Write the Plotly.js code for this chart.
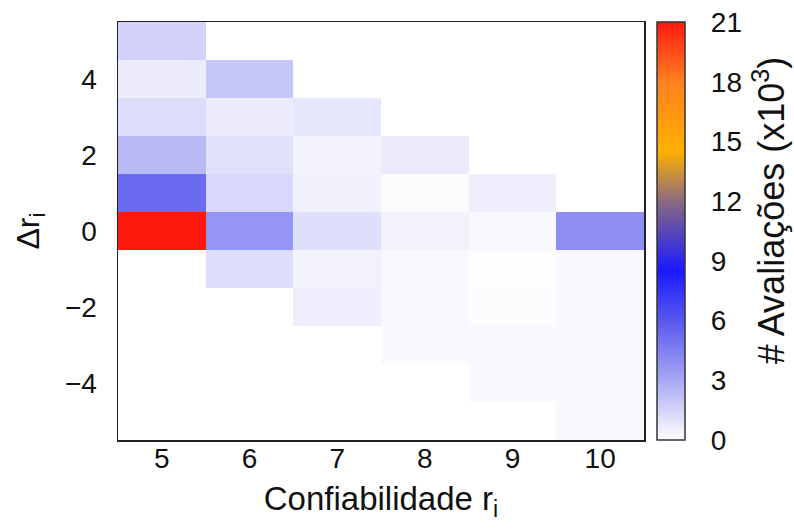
<!DOCTYPE html>
<html>
<head>
<meta charset="utf-8">
<script src="https://cdn.plot.ly/plotly-3.0.1.min.js"></script>
<style>html,body{margin:0;padding:0;background:#fff;}#chart{width:794px;height:529px;}</style>
</head>
<body>
<div id="chart"></div>
<script>
// Confiabilidade r_i (x categories)
const confiabilidade = [5, 6, 7, 8, 9, 10];
// Delta r_i (y rows)
const deltaR = [-5, -4, -3, -2, -1, 0, 1, 2, 3, 4, 5];
// Avaliacoes (x10^3) per column, ordered by deltaR
const col5  = [0, 0, 0, 0, 0, 21.0, 5.3, 2.4, 1.2, 0.65, 1.6];
const col6  = [0, 0, 0, 0, 1.2, 3.7, 1.35, 1.05, 0.65, 2.0, 0];
const col7  = [0, 0, 0, 0.6, 0.45, 1.1, 0.5, 0.4, 0.85, 0, 0];
const col8  = [0, 0, 0.2, 0.25, 0.25, 0.45, 0.15, 0.7, 0, 0, 0];
const col9  = [0, 0.2, 0.25, 0.1, 0.07, 0.25, 0.6, 0, 0, 0, 0];
const col10 = [0.25, 0.25, 0.25, 0.25, 0.25, 4.0, 0, 0, 0, 0, 0];
const columns = [col5, col6, col7, col8, col9, col10];
const cbTicks = [0, 3, 6, 9, 12, 15, 18, 21];
const yTicks = [-4, -2, 0, 2, 4];
const cbTitle = '# Avaliações (x10<sup>3</sup>)';

// z[row][col]
const z = deltaR.map((d, i) => columns.map(c => c[i]));

const font = 'Liberation Sans, Arial, sans-serif';
const zmax = 21;
const plotW = 526;
const cbX0 = 1.025, cbThick = 28;
const cbX1 = cbX0 + cbThick / plotW;
const dash = 6 / plotW;

// inside tick dashes of the colour bar, on both edges
const shapes = [];
cbTicks.filter(v => v > 0 && v < zmax).forEach(v => {
  const yy = v / zmax;
  shapes.push({type: 'line', xref: 'paper', yref: 'paper', x0: cbX0, x1: cbX0 + dash, y0: yy, y1: yy, line: {color: '#4a2020', width: 1.5}});
  shapes.push({type: 'line', xref: 'paper', yref: 'paper', x0: cbX1 - dash, x1: cbX1, y0: yy, y1: yy, line: {color: '#4a2020', width: 1.5}});
});

const trace = {
  type: 'heatmap',
  x: confiabilidade,
  y: deltaR,
  z: z,
  zmin: 0,
  zmax: zmax,
  colorscale: [
    [0.0, '#ffffff'],
    [3/21, '#a8a8f4'],
    [6/21, '#5858f0'],
    [8.5/21, '#1a1aff'],
    [12/21, '#8a6a80'],
    [14.5/21, '#ffb000'],
    [18/21, '#ff8020'],
    [1.0, '#ff1a10']
  ],
  xgap: 0, ygap: 0,
  hoverinfo: 'x+y+z',
  colorbar: {
    x: cbX0, xanchor: 'left', xref: 'paper',
    y: 0.5, yanchor: 'middle', len: 1, lenmode: 'fraction',
    thickness: cbThick, thicknessmode: 'pixels',
    outlinecolor: '#333', outlinewidth: 1.5,
    tickvals: cbTicks,
    ticks: 'outside', ticklen: 20, tickcolor: 'rgba(0,0,0,0)',
    tickfont: {family: font, size: 28, color: '#111'},
    xpad: 0, ypad: 0
  }
};

const layout = {
  width: 794, height: 529,
  margin: {l: 118, r: 150, t: 22, b: 89},
  paper_bgcolor: '#fff', plot_bgcolor: '#fff',
  font: {family: font, size: 28, color: '#111'},
  shapes: shapes,
  annotations: [{
    text: cbTitle, textangle: -90, showarrow: false,
    xref: 'paper', yref: 'paper', x: 1.238, y: 0.55,
    xanchor: 'center', yanchor: 'middle',
    font: {family: font, size: 36, color: '#111'}
  }],
  xaxis: {
    range: [4.5, 10.5], tickvals: confiabilidade,
    showgrid: false, zeroline: false, ticks: '',
    showline: true, mirror: true, linecolor: '#222', linewidth: 1.5,
    ticklabelstandoff: -7,
    tickfont: {family: font, size: 28, color: '#111'},
    title: {text: 'Confiabilidade r<sub>i</sub>', font: {family: font, size: 33, color: '#111'}, standoff: 14}
  },
  yaxis: {
    range: [-5.5, 5.5], tickvals: yTicks,
    showgrid: false, zeroline: false, ticks: '',
    showline: true, mirror: true, linecolor: '#222', linewidth: 1.5,
    ticklabelstandoff: 14,
    tickfont: {family: font, size: 28, color: '#111'},
    title: {text: 'Δr<sub>i</sub>', font: {family: font, size: 32, color: '#111'}, standoff: 16}
  }
};

Plotly.newPlot('chart', [trace], layout, {displayModeBar: false, staticPlot: true});
</script>
</body>
</html>
